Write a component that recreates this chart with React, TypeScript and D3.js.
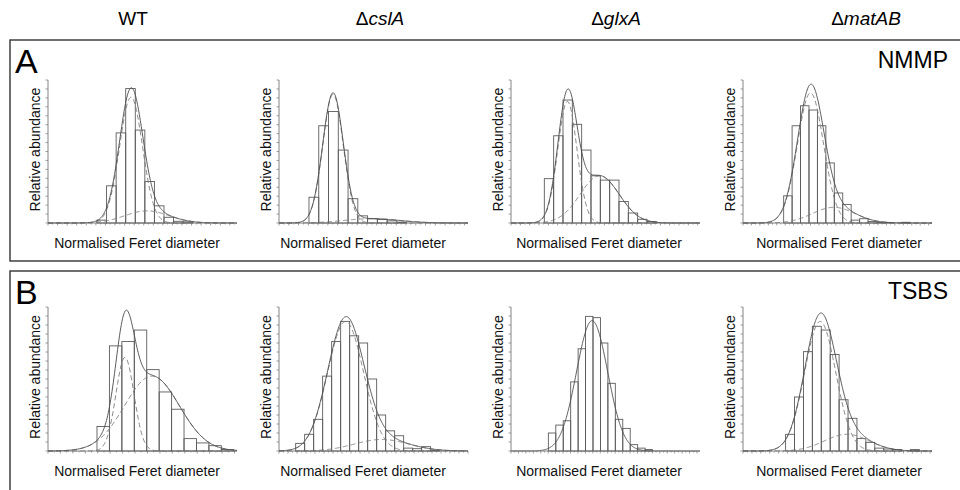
import React from "react";
import * as d3 from "d3";

// column headers (prefix upright, gene name italic)
const headerPrefix = ["", "Δ", "Δ", "Δ"];
const headerName = ["WT", "cslA", "glxA", "matAB"];
const headerItalic = [false, true, true, true];

const rowLetters = ["A", "B"];
const rowMedia = ["NMMP", "TSBS"];

// histogram heights (relative abundance, fraction of axis height), one per bin
const nmmpWt = [0.02, 0.26, 0.63, 0.94, 0.65, 0.29, 0.12, 0.04, 0.012, 0.008];
const nmmpCsla = [0.18, 0.68, 0.78, 0.51, 0.17, 0.05, 0.03, 0.025, 0.015, 0.006];
const nmmpGlxa = [0.31, 0.61, 0.86, 0.69, 0.51, 0.33, 0.3, 0.3, 0.15, 0.07, 0.026, 0.01];
const nmmpMatab = [0.19, 0.68, 0.82, 0.79, 0.68, 0.42, 0.21, 0.13, 0.02, 0.03, 0.01, 0.005, 0.004, 0, 0.005];

const tsbsWt = [0.17, 0.73, 0.76, 0.84, 0.565, 0.41, 0.29, 0.086, 0.056, 0.037, 0.01];
const tsbsCsla = [0.053, 0.116, 0.22, 0.52, 0.76, 0.9, 0.8, 0.75, 0.5, 0.25, 0.14, 0.106, 0.02, 0.016, 0.03, 0.005];
const tsbsGlxa = [0.125, 0.18, 0.21, 0.48, 0.71, 0.935, 0.926, 0.75, 0.47, 0.22, 0.157, 0.044, 0.02, 0.01];
const tsbsMatab = [0.116, 0.375, 0.69, 0.866, 0.84, 0.67, 0.356, 0.227, 0.086, 0.06, 0.02, 0.014, 0.01, 0, 0.01];

// first bin edge and axis extent, in bin units
const nmmpStart = [5.12, 3.07, 3.57, 4.82];
const nmmpRange = [19.75, 19.35, 20.25, 22.4];
const tsbsStart = [3.94, 1.85, 5.02, 4.78];
const tsbsRange = [15.2, 21, 25.4, 21.2];

// fitted gaussian components: [mean, sd, amplitude]
const nmmpFits = [
  [[8.68, 1.2, 0.88], [10.35, 2.3, 0.085]],
  [[5.53, 1.05, 0.9], [9.5, 2.8, 0.03]],
  [[6.04, 1.03, 0.85], [9.5, 2.1, 0.33]],
  [[8.0, 1.55, 0.91], [10.75, 2.5, 0.11]],
];
const tsbsFits = [
  [[6.19, 0.73, 0.65], [8.36, 2.2, 0.52]],
  [[7.4, 2.0, 0.9], [11.4, 3.0, 0.08]],
  [[10.9, 2.1, 0.905]],
  [[8.66, 1.75, 0.9], [11.64, 2.5, 0.116]],
];

const rows = [
  { bars: [nmmpWt, nmmpCsla, nmmpGlxa, nmmpMatab], start: nmmpStart, range: nmmpRange, fits: nmmpFits },
  { bars: [tsbsWt, tsbsCsla, tsbsGlxa, tsbsMatab], start: tsbsStart, range: tsbsRange, fits: tsbsFits },
];

const W = 960;
const H = 490;
const font = "'Liberation Sans', Arial, sans-serif";
const colX0 = [48, 279, 511, 743];
const colX1 = [237, 468, 700, 932];
const headerX = [133, 380, 616, 866];
const xLabelX = [137, 363, 599, 839];
const rowTop = [80, 307];
const rowBottom = [223, 451];
const boxTop = [40, 271];
const boxBottom = [261, 520];

const gauss = (x: number, c: number[]) => c[2] * Math.exp(-0.5 * ((x - c[0]) / c[1]) ** 2);

function Panel({ r, c }: { r: number; c: number }) {
  const row = rows[r];
  const heights = row.bars[c];
  const start = row.start[c];
  const range = row.range[c];
  const comps = row.fits[c];
  const x = d3.scaleLinear().domain([0, range]).range([colX0[c], colX1[c]]);
  const y = d3.scaleLinear().domain([0, 1]).range([rowBottom[r], rowTop[r]]);
  const samples = d3.range(0, range + 0.001, 0.05);
  const path = (f: (v: number) => number) =>
    d3
      .line<number>()
      .x((d) => x(d))
      .y((d) => y(f(d)))(samples) || "";
  const total = (v: number) => d3.sum(comps, (cc) => gauss(v, cc));
  const xTicks = d3.range(0, range + 0.001, 0.5);
  const yTicks = d3.range(0, 17).map((i) => i / 16);
  return (
    <g>
      {heights.map((h, i) =>
        h > 0 ? (
          <rect
            key={i}
            x={x(start + i)}
            y={y(h)}
            width={x(start + i + 1) - x(start + i)}
            height={y(0) - y(h)}
            fill="none"
            stroke="#5c5c5c"
            strokeWidth={0.9}
          />
        ) : null
      )}
      {comps.length > 1 &&
        comps.map((cc, i) => (
          <path key={i} d={path((v) => gauss(v, cc))} fill="none" stroke="#7a7a7a" strokeWidth={0.9} strokeDasharray="5,3" />
        ))}
      <path d={path(total)} fill="none" stroke="#4a4a4a" strokeWidth={0.9} />
      {/* axes */}
      <line x1={colX0[c]} x2={colX0[c]} y1={rowTop[r]} y2={rowBottom[r]} stroke="#666" strokeWidth={0.8} />
      <line x1={colX0[c]} x2={colX1[c]} y1={rowBottom[r]} y2={rowBottom[r]} stroke="#666" strokeWidth={0.8} />
      {yTicks.map((t, i) => (
        <line key={"y" + i} x1={colX0[c] - 2.5} x2={colX0[c]} y1={y(t)} y2={y(t)} stroke="#777" strokeWidth={0.7} />
      ))}
      {xTicks.map((t, i) => (
        <line key={"x" + i} x1={x(t)} x2={x(t)} y1={rowBottom[r]} y2={rowBottom[r] + (i % 2 === 0 ? 2.5 : 1.5)} stroke="#777" strokeWidth={0.7} />
      ))}
      <text
        transform={`translate(${colX0[c] - 8},${(rowTop[r] + rowBottom[r]) / 2 - 2}) rotate(-90)`}
        textAnchor="middle"
        fontSize={14}
        fontFamily={font}
        fill="#111"
      >
        Relative abundance
      </text>
      <text x={xLabelX[c]} y={rowBottom[r] + 25} textAnchor="middle" fontSize={14} fontFamily={font} fill="#111">
        Normalised Feret diameter
      </text>
    </g>
  );
}

export default function App() {
  return (
    <svg width={W} height={H} style={{ position: "absolute", left: 0, top: 0, background: "#fff" }}>
      <rect width={W} height={H} fill="#fff" />
      {headerName.map((n, i) => (
        <text key={n} x={headerX[i]} y={25} textAnchor="middle" fontSize={19} fontFamily={font} fill="#000">
          {headerPrefix[i]}
          <tspan fontStyle={headerItalic[i] ? "italic" : "normal"}>{n}</tspan>
        </text>
      ))}
      {rowLetters.map((l, r) => (
        <g key={l}>
          <rect x={10} y={boxTop[r]} width={W + 20} height={boxBottom[r] - boxTop[r]} fill="none" stroke="#333" strokeWidth={1.4} />
          <text x={15} y={boxTop[r] + 33} fontSize={34} fontFamily={font} fill="#000">
            {l}
          </text>
          <text x={948} y={boxTop[r] + 28} textAnchor="end" fontSize={23} fontFamily={font} fill="#000">
            {rowMedia[r]}
          </text>
          {headerName.map((_, c) => (
            <Panel key={c} r={r} c={c} />
          ))}
        </g>
      ))}
    </svg>
  );
}
